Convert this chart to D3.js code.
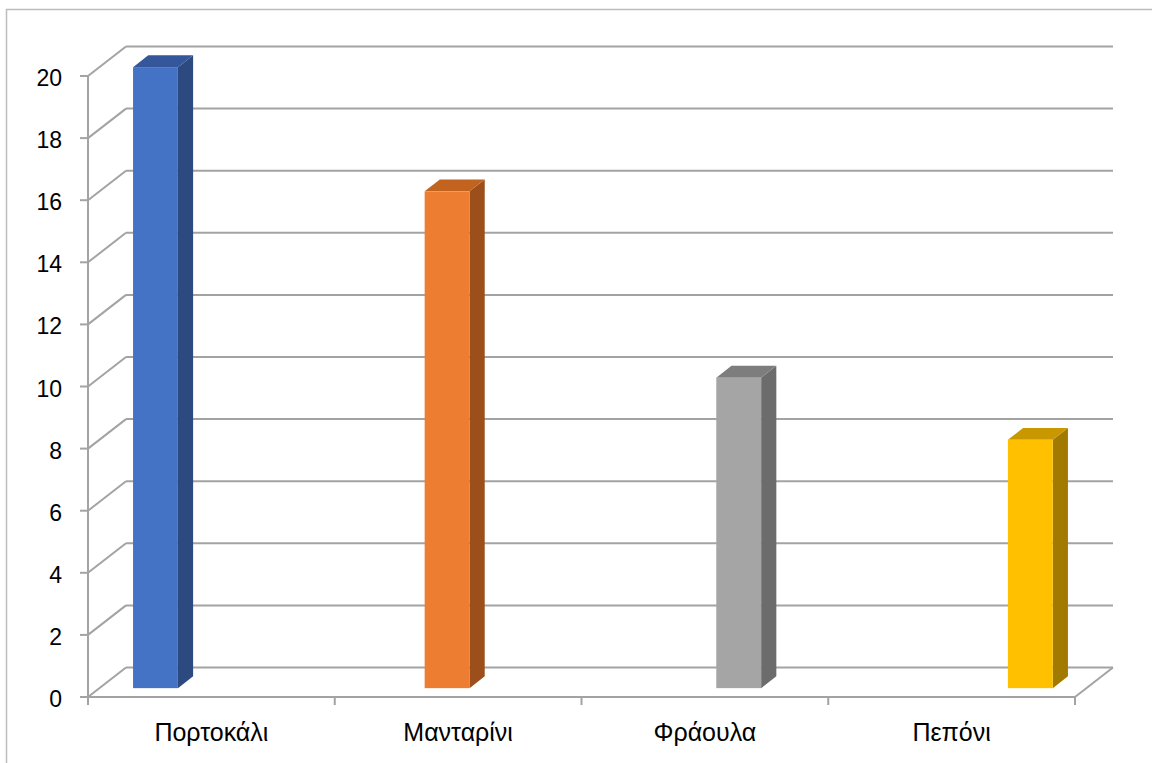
<!doctype html>
<html>
<head>
    <meta charset="utf-8">
    <style>
        body { margin: 0; background: #fff; }
        text { font-family: "Liberation Sans", Arial, sans-serif; fill: #000; }
    </style>
    <script src="https://d3js.org/d3.v7.min.js"></script>
</head>
<body>
<svg width="1152" height="763"></svg>
<script>
    // data
    var categories = ["Πορτοκάλι", "Μανταρίνι", "Φράουλα", "Πεπόνι"];
    var values = [20, 16, 10, 8];
    var yTicks = [0, 2, 4, 6, 8, 10, 12, 14, 16, 18, 20];
    var frontColors = ["#4472C4", "#ED7D31", "#A5A5A5", "#FFC000"];
    var topColors = ["#34579c", "#c2631f", "#7d7d7d", "#c99700"];
    var sideColors = ["#2c4a80", "#9c4f1a", "#6c6c6c", "#a27a00"];

    var svg = d3.select("svg");

    // chart frame
    svg.append("rect")
       .attr("x", 6.5).attr("y", 9.5)
       .attr("width", 1160).attr("height", 770)
       .attr("fill", "none")
       .attr("stroke", "#bdbdbd")
       .attr("stroke-width", 1.5);

    var depthX = 38, depthY = 29.5;   // depth of the 3d box
    var barFrom = 0.3, barTo = 0.7;    // where the bar sits in the depth

    var x = d3.scaleBand().domain(categories).range([88, 1075]);
    var slot = d3.scaleBand().domain(d3.range(categories.length))
                 .range([0, x.bandwidth()]).paddingInner(0).paddingOuter(0.75);
    var y = d3.scaleLinear().domain([0, 20]).range([697, 76]);

    var gridColor = "#a3a3a3";
    var g = svg.append("g");

    // back wall gridlines
    g.selectAll(".grid")
     .data(yTicks)
     .enter().append("line")
     .attr("x1", 88 + depthX).attr("x2", 1075 + depthX)
     .attr("y1", function(d) { return y(d) - depthY; })
     .attr("y2", function(d) { return y(d) - depthY; })
     .attr("stroke", gridColor).attr("stroke-width", 2);

    // left wall diagonals
    g.selectAll(".diag")
     .data(yTicks)
     .enter().append("line")
     .attr("x1", 88).attr("x2", 88 + depthX)
     .attr("y1", function(d) { return y(d); })
     .attr("y2", function(d) { return y(d) - depthY; })
     .attr("stroke", gridColor).attr("stroke-width", 2);

    // floor
    g.append("line")
     .attr("x1", 88).attr("x2", 1075)
     .attr("y1", y(0)).attr("y2", y(0))
     .attr("stroke", gridColor).attr("stroke-width", 2);
    g.append("line")
     .attr("x1", 1075).attr("x2", 1075 + depthX)
     .attr("y1", y(0)).attr("y2", y(0) - depthY)
     .attr("stroke", gridColor).attr("stroke-width", 2);

    // bars
    var fx = depthX * barFrom, fy = depthY * barFrom;
    var bx = depthX * (barTo - barFrom), by = depthY * (barTo - barFrom);

    var bars = g.selectAll(".bar")
                .data(values)
                .enter().append("g")
                .attr("class", "bar");

    bars.each(function(d, i) {
        var x0 = x(categories[i]) + slot(i) + fx,
            x1 = x0 + slot.bandwidth(),
            yt = y(d) - fy,
            yb = y(0) - fy;
        var b = d3.select(this);
        b.append("polygon")
         .attr("points", [[x1, yt], [x1 + bx, yt - by], [x1 + bx, yb - by], [x1, yb]].join(" "))
         .attr("fill", sideColors[i]);
        b.append("polygon")
         .attr("points", [[x0, yt], [x0 + bx, yt - by], [x1 + bx, yt - by], [x1, yt]].join(" "))
         .attr("fill", topColors[i]);
        b.append("rect")
         .attr("x", x0).attr("y", yt)
         .attr("width", x1 - x0).attr("height", yb - yt)
         .attr("fill", frontColors[i]);
    });

    // front y axis
    g.append("line")
     .attr("x1", 88).attr("x2", 88)
     .attr("y1", y(20)).attr("y2", y(0) + 1)
     .attr("stroke", gridColor).attr("stroke-width", 2);
    g.selectAll(".ytick")
     .data(yTicks)
     .enter().append("line")
     .attr("x1", 80).attr("x2", 88)
     .attr("y1", function(d) { return y(d); })
     .attr("y2", function(d) { return y(d); })
     .attr("stroke", gridColor).attr("stroke-width", 2);
    g.selectAll(".ylabel")
     .data(yTicks)
     .enter().append("text")
     .attr("x", 62)
     .attr("y", function(d) { return y(d) + 10; })
     .attr("text-anchor", "end")
     .attr("font-size", "23px")
     .text(function(d) { return d; });

    // category ticks and labels
    var catEdges = categories.map(function(c) { return x(c); }).concat([x.range()[1]]);
    g.selectAll(".xtick")
     .data(catEdges)
     .enter().append("line")
     .attr("x1", function(d) { return d; })
     .attr("x2", function(d) { return d; })
     .attr("y1", y(0)).attr("y2", y(0) + 8)
     .attr("stroke", gridColor).attr("stroke-width", 2);
    g.selectAll(".xlabel")
     .data(categories)
     .enter().append("text")
     .attr("x", function(d) { return x(d) + x.bandwidth() / 2; })
     .attr("y", 741)
     .attr("text-anchor", "middle")
     .attr("font-size", "25px")
     .text(function(d) { return d; });
</script>
</body>
</html>
